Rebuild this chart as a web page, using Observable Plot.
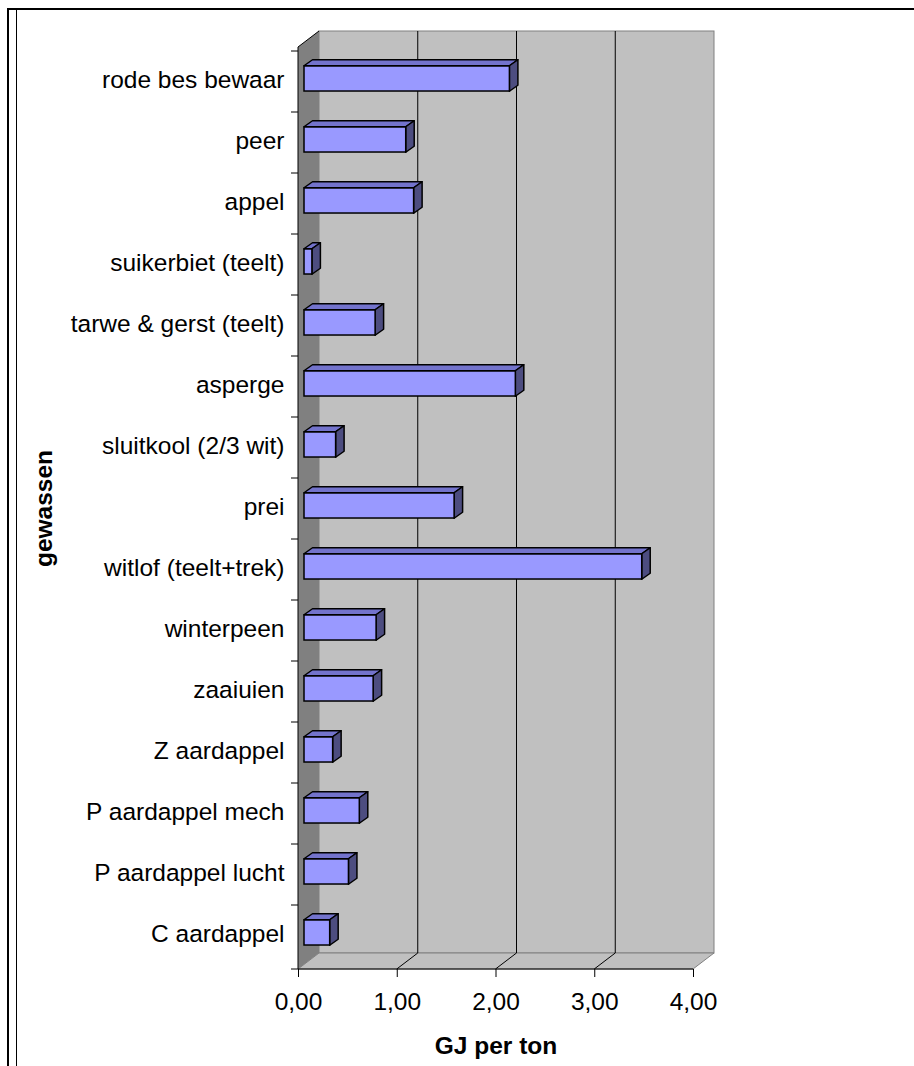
<!DOCTYPE html>
<html>
<head>
<meta charset="utf-8">
<script src="https://cdn.jsdelivr.net/npm/d3@7"></script>
<script src="https://cdn.jsdelivr.net/npm/@observablehq/plot@0.6"></script>
<style>
  html, body { margin: 0; padding: 0; background: #fff; }
  #wrap { position: relative; width: 914px; height: 1066px; overflow: hidden; }
  #wrap svg { position: absolute; left: 0; top: 0; }
  .edge { position: absolute; background: #000; pointer-events: none; }
</style>
</head>
<body>
<div id="wrap">
  <div class="edge" style="left:7px; top:8px; width:907px; height:2px;"></div>
  <div class="edge" style="left:7px; top:8px; width:2px; height:1058px;"></div>
  <div class="edge" style="left:16px; top:10px; width:1px; height:1056px;"></div>
</div>
<script>
// Energy use per tonne of crop
const categories = [
  "rode bes bewaar", "peer", "appel", "suikerbiet (teelt)", "tarwe & gerst (teelt)",
  "asperge", "sluitkool (2/3 wit)", "prei", "witlof (teelt+trek)", "winterpeen",
  "zaaiuien", "Z aardappel", "P aardappel mech", "P aardappel lucht", "C aardappel"
];
const values = [2.08, 1.03, 1.11, 0.08, 0.72, 2.14, 0.32, 1.52, 3.42, 0.73, 0.70, 0.29, 0.56, 0.45, 0.26];
const xTicks = [0, 1, 2, 3, 4];
const xTitle = "GJ per ton";
const yTitle = "gewassen";

const data = categories.map((gewas, i) => ({gewas, waarde: values[i]}));

// layout
const W = 914, H = 1066;
const margin = {top: 47, right: 221, bottom: 97, left: 298};
const band = (H - margin.top - margin.bottom) / categories.length;
const wallDepth = {dx: 21, dy: -16};   // depth of the back wall
const barShift = {dx: 6, dy: -3};      // bars sit slightly behind the front plane
const barDepth = {dx: 8.5, dy: -6};    // thickness of each bar
const barHeight = 25.5;
const fmt = d => d.toFixed(2).replace(".", ",");

// back wall, floor, side wall and the category axis
function walls(index, scales, vals, dim) {
  const {x, y} = scales;
  const x0 = x(0), x4 = x(xTicks[xTicks.length - 1]);
  const yTop = dim.marginTop, yBot = dim.height - dim.marginBottom;
  const {dx, dy} = wallDepth;
  const g = d3.create("svg:g");
  g.append("rect")
    .attr("x", x0 + dx).attr("y", yTop + dy)
    .attr("width", x4 - x0).attr("height", yBot - yTop)
    .attr("fill", "#c0c0c0").attr("stroke", "#808080");
  g.append("path")
    .attr("d", `M${x0},${yBot}L${x0 + dx},${yBot + dy}L${x4 + dx},${yBot + dy}L${x4},${yBot}Z`)
    .attr("fill", "#c0c0c0").attr("stroke", "#808080");
  for (const v of xTicks.slice(1, -1)) {
    g.append("path")
      .attr("d", `M${x(v) + dx},${yTop + dy}L${x(v) + dx},${yBot + dy}L${x(v)},${yBot}`)
      .attr("fill", "none").attr("stroke", "#000");
  }
  g.append("path")
    .attr("d", `M${x0},${yTop}L${x0 + dx},${yTop + dy}L${x0 + dx},${yBot + dy}L${x0},${yBot}Z`)
    .attr("fill", "#808080").attr("stroke", "none");
  g.append("path")
    .attr("d", `M${x0},${yTop}L${x0 + dx},${yTop + dy}`)
    .attr("stroke", "#000");
  g.append("path")
    .attr("d", `M${x0},${yTop}L${x0},${yBot}L${x4},${yBot}`)
    .attr("fill", "none").attr("stroke", "#000");
  const bounds = categories.map(c => y(c)).concat([yBot]);
  for (const b of bounds) {
    g.append("line")
      .attr("x1", x0 - 7).attr("x2", x0).attr("y1", b).attr("y2", b)
      .attr("stroke", "#000");
  }
  return g.node();
}

// top and end faces of the bars
function barFaces(index, scales, vals, dim) {
  const {x, y} = scales;
  const bw = y.bandwidth ? y.bandwidth() : band;
  const g = d3.create("svg:g")
    .attr("stroke", "#000").attr("stroke-width", 1.5).attr("stroke-linejoin", "round");
  for (const d of data) {
    const xa = x(0) + barShift.dx, xb = x(d.waarde) + barShift.dx;
    const yc = y(d.gewas) + bw / 2 + barShift.dy;
    const t = yc - barHeight / 2, b = yc + barHeight / 2;
    const {dx, dy} = barDepth;
    g.append("path")
      .attr("d", `M${xa},${t}L${xa + dx},${t + dy}L${xb + dx},${t + dy}L${xb},${t}Z`)
      .attr("fill", "#7373cc");
    g.append("path")
      .attr("d", `M${xb},${t}L${xb + dx},${t + dy}L${xb + dx},${b + dy}L${xb},${b}Z`)
      .attr("fill", "#4d4d80");
  }
  return g.node();
}

const inset = (band - barHeight) / 2;

const chart = Plot.plot({
  width: W,
  height: H,
  marginTop: margin.top,
  marginRight: margin.right,
  marginBottom: margin.bottom,
  marginLeft: margin.left,
  style: {fontFamily: "'Liberation Sans', Arial, sans-serif", color: "#000", background: "transparent"},
  x: {domain: [xTicks[0], xTicks[xTicks.length - 1]]},
  y: {type: "band", domain: categories, padding: 0},
  marks: [
    walls,
    barFaces,
    Plot.barX(data, {
      x: "waarde", y: "gewas",
      fill: "#9999ff", stroke: "#000", strokeWidth: 1.5,
      insetTop: inset, insetBottom: inset,
      dx: barShift.dx, dy: barShift.dy
    }),
    Plot.axisY({tickSize: 0, tickPadding: 14, fontSize: 24.5, label: null, dy: -2}),
    Plot.axisX({ticks: xTicks, tickFormat: fmt, tickSize: 8, tickPadding: 15, fontSize: 24.5, label: null}),
    Plot.text([xTitle], {frameAnchor: "bottom", dy: 84, fontSize: 24.5, fontWeight: "bold", text: d => d}),
    Plot.text([yTitle], {
      frameAnchor: "left", textAnchor: "middle", lineAnchor: "middle",
      dx: -254, rotate: -90, fontSize: 24.5, fontWeight: "bold", text: d => d
    })
  ]
});

document.getElementById("wrap").prepend(chart);
</script>
</body>
</html>
